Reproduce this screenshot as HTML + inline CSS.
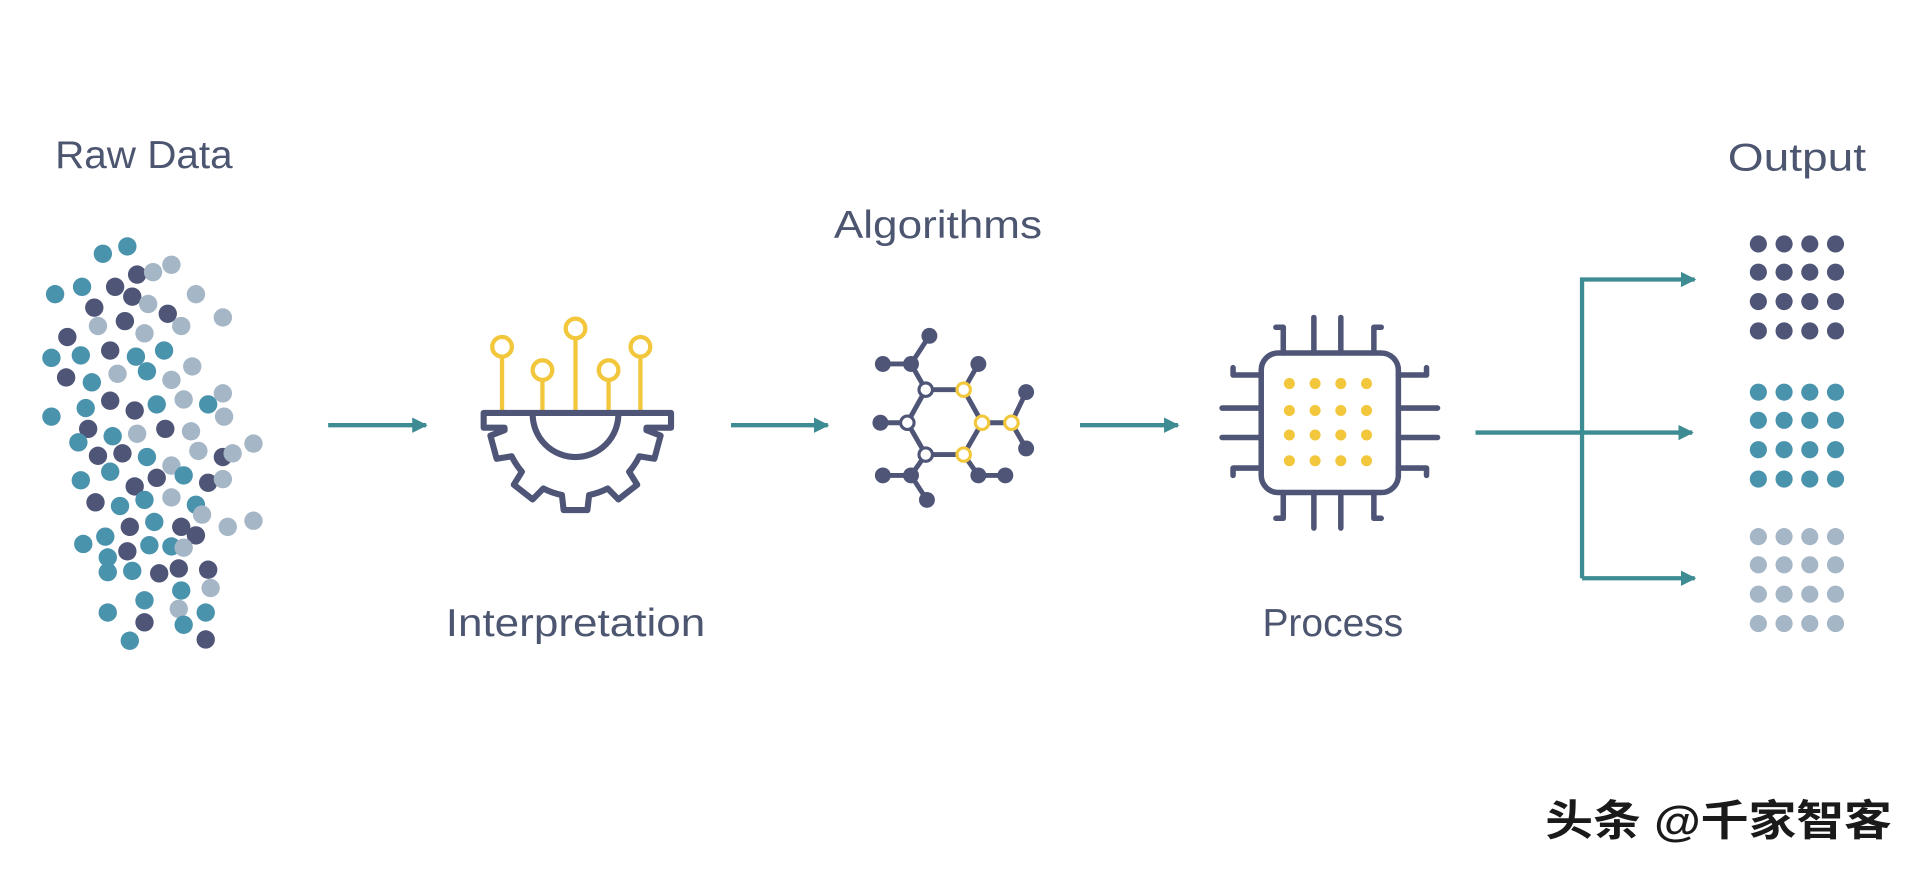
<!DOCTYPE html>
<html><head><meta charset="utf-8"><style>
html,body{margin:0;padding:0;background:#fff;width:1920px;height:870px;overflow:hidden}
svg{display:block}
text{font-family:"Liberation Sans","Noto Sans CJK SC",sans-serif;fill:#4d5670}
</style></head><body>
<svg width="1920" height="870" viewBox="0 0 1568 710" xmlns="http://www.w3.org/2000/svg">
<defs>
<marker id="ah" viewBox="0 0 10 10" refX="9" refY="5" markerWidth="3.6" markerHeight="3.6" orient="auto"><path d="M0,0 L10,5 L0,10 Z" fill="#3d8b93"/></marker>
</defs>
<text x="45" y="137" font-size="32" textLength="145" lengthAdjust="spacingAndGlyphs">Raw Data</text>
<text x="681" y="194" font-size="32" textLength="170" lengthAdjust="spacingAndGlyphs">Algorithms</text>
<text x="1411" y="139" font-size="32" textLength="113" lengthAdjust="spacingAndGlyphs">Output</text>
<text x="364" y="519" font-size="32" textLength="212" lengthAdjust="spacingAndGlyphs">Interpretation</text>
<text x="1031" y="519" font-size="32" textLength="115" lengthAdjust="spacingAndGlyphs">Process</text>
<text x="1262" y="682" font-size="35" font-weight="bold" style="fill:#1a1a1a" textLength="283" lengthAdjust="spacingAndGlyphs">头条 @千家智客</text>

<!-- scatter -->
<g>
<circle cx="84" cy="207" r="7.5" fill="#4a93ad"/><circle cx="104" cy="201" r="7.5" fill="#4a93ad"/>
<circle cx="45" cy="240" r="7.5" fill="#4a93ad"/><circle cx="67" cy="234" r="7.5" fill="#4a93ad"/>
<circle cx="94" cy="234" r="7.5" fill="#4f5577"/><circle cx="112" cy="224" r="7.5" fill="#4f5577"/>
<circle cx="125" cy="222" r="7.5" fill="#a5b6c6"/><circle cx="140" cy="216" r="7.5" fill="#a5b6c6"/>
<circle cx="108" cy="242" r="7.5" fill="#4f5577"/><circle cx="121" cy="248" r="7.5" fill="#a5b6c6"/>
<circle cx="160" cy="240" r="7.5" fill="#a5b6c6"/><circle cx="77" cy="251" r="7.5" fill="#4f5577"/>
<circle cx="55" cy="275" r="7.5" fill="#4f5577"/><circle cx="80" cy="266" r="7.5" fill="#a5b6c6"/>
<circle cx="102" cy="262" r="7.5" fill="#4f5577"/><circle cx="118" cy="272" r="7.5" fill="#a5b6c6"/>
<circle cx="137" cy="256" r="7.5" fill="#4f5577"/><circle cx="148" cy="266" r="7.5" fill="#a5b6c6"/>
<circle cx="182" cy="259" r="7.5" fill="#a5b6c6"/><circle cx="42" cy="292" r="7.5" fill="#4a93ad"/>
<circle cx="66" cy="290" r="7.5" fill="#4a93ad"/><circle cx="90" cy="286" r="7.5" fill="#4f5577"/>
<circle cx="111" cy="291" r="7.5" fill="#4a93ad"/><circle cx="134" cy="286" r="7.5" fill="#4a93ad"/>
<circle cx="157" cy="299" r="7.5" fill="#a5b6c6"/><circle cx="54" cy="308" r="7.5" fill="#4f5577"/>
<circle cx="75" cy="312" r="7.5" fill="#4a93ad"/><circle cx="96" cy="305" r="7.5" fill="#a5b6c6"/>
<circle cx="120" cy="303" r="7.5" fill="#4a93ad"/><circle cx="140" cy="310" r="7.5" fill="#a5b6c6"/>
<circle cx="182" cy="321" r="7.5" fill="#a5b6c6"/><circle cx="42" cy="340" r="7.5" fill="#4a93ad"/>
<circle cx="70" cy="333" r="7.5" fill="#4a93ad"/><circle cx="90" cy="327" r="7.5" fill="#4f5577"/>
<circle cx="110" cy="335" r="7.5" fill="#4f5577"/><circle cx="128" cy="330" r="7.5" fill="#4a93ad"/>
<circle cx="150" cy="326" r="7.5" fill="#a5b6c6"/><circle cx="170" cy="330" r="7.5" fill="#4a93ad"/>
<circle cx="183" cy="340" r="7.5" fill="#a5b6c6"/><circle cx="72" cy="350" r="7.5" fill="#4f5577"/>
<circle cx="92" cy="356" r="7.5" fill="#4a93ad"/><circle cx="112" cy="354" r="7.5" fill="#a5b6c6"/>
<circle cx="135" cy="350" r="7.5" fill="#4f5577"/><circle cx="156" cy="352" r="7.5" fill="#a5b6c6"/>
<circle cx="207" cy="362" r="7.5" fill="#a5b6c6"/><circle cx="64" cy="361" r="7.5" fill="#4a93ad"/>
<circle cx="80" cy="372" r="7.5" fill="#4f5577"/><circle cx="100" cy="370" r="7.5" fill="#4f5577"/>
<circle cx="120" cy="373" r="7.5" fill="#4a93ad"/><circle cx="140" cy="380" r="7.5" fill="#a5b6c6"/>
<circle cx="162" cy="368" r="7.5" fill="#a5b6c6"/><circle cx="182" cy="373" r="7.5" fill="#4f5577"/>
<circle cx="190" cy="370" r="7.5" fill="#a5b6c6"/><circle cx="66" cy="392" r="7.5" fill="#4a93ad"/>
<circle cx="90" cy="385" r="7.5" fill="#4a93ad"/><circle cx="110" cy="397" r="7.5" fill="#4f5577"/>
<circle cx="128" cy="390" r="7.5" fill="#4f5577"/><circle cx="150" cy="388" r="7.5" fill="#4a93ad"/>
<circle cx="170" cy="394" r="7.5" fill="#4f5577"/><circle cx="182" cy="391" r="7.5" fill="#a5b6c6"/>
<circle cx="78" cy="410" r="7.5" fill="#4f5577"/><circle cx="98" cy="413" r="7.5" fill="#4a93ad"/>
<circle cx="118" cy="408" r="7.5" fill="#4a93ad"/><circle cx="140" cy="406" r="7.5" fill="#a5b6c6"/>
<circle cx="160" cy="412" r="7.5" fill="#4a93ad"/><circle cx="207" cy="425" r="7.5" fill="#a5b6c6"/>
<circle cx="68" cy="444" r="7.5" fill="#4a93ad"/><circle cx="86" cy="438" r="7.5" fill="#4a93ad"/>
<circle cx="106" cy="430" r="7.5" fill="#4f5577"/><circle cx="126" cy="426" r="7.5" fill="#4a93ad"/>
<circle cx="148" cy="430" r="7.5" fill="#4f5577"/><circle cx="165" cy="420" r="7.5" fill="#a5b6c6"/>
<circle cx="186" cy="430" r="7.5" fill="#a5b6c6"/><circle cx="160" cy="437" r="7.5" fill="#4f5577"/>
<circle cx="88" cy="455" r="7.5" fill="#4a93ad"/><circle cx="104" cy="450" r="7.5" fill="#4f5577"/>
<circle cx="122" cy="445" r="7.5" fill="#4a93ad"/><circle cx="140" cy="446" r="7.5" fill="#4a93ad"/>
<circle cx="146" cy="464" r="7.5" fill="#4f5577"/><circle cx="170" cy="465" r="7.5" fill="#4f5577"/>
<circle cx="88" cy="467" r="7.5" fill="#4a93ad"/><circle cx="108" cy="466" r="7.5" fill="#4a93ad"/>
<circle cx="150" cy="447" r="7.5" fill="#a5b6c6"/><circle cx="172" cy="480" r="7.5" fill="#a5b6c6"/>
<circle cx="148" cy="482" r="7.5" fill="#4a93ad"/><circle cx="118" cy="490" r="7.5" fill="#4a93ad"/>
<circle cx="146" cy="497" r="7.5" fill="#a5b6c6"/><circle cx="168" cy="500" r="7.5" fill="#4a93ad"/>
<circle cx="88" cy="500" r="7.5" fill="#4a93ad"/><circle cx="118" cy="508" r="7.5" fill="#4f5577"/>
<circle cx="150" cy="510" r="7.5" fill="#4a93ad"/><circle cx="106" cy="523" r="7.5" fill="#4a93ad"/>
<circle cx="168" cy="522" r="7.5" fill="#4f5577"/><circle cx="130" cy="468" r="7.5" fill="#4f5577"/>
</g>

<!-- arrows -->
<g stroke="#3d8b93" stroke-width="3.5" fill="none" marker-end="url(#ah)">
<line x1="268" y1="347" x2="348" y2="347"/>
<line x1="597" y1="347" x2="676" y2="347"/>
<line x1="882" y1="347" x2="962" y2="347"/>
<line x1="1292" y1="353" x2="1382" y2="353"/>
<path d="M1292,472 V228 H1384" />
<line x1="1292" y1="472" x2="1384" y2="472"/>
</g>
<line x1="1205" y1="353" x2="1292" y2="353" stroke="#3d8b93" stroke-width="3.5"/>

<!-- gear -->
<g stroke="#f2c73c" stroke-width="3.5" fill="none">
<line x1="410" y1="292" x2="410" y2="336"/><circle cx="410" cy="283" r="8" fill="#fff"/>
<line x1="443" y1="311" x2="443" y2="336"/><circle cx="443" cy="302" r="8" fill="#fff"/>
<line x1="470" y1="277" x2="470" y2="336"/><circle cx="470" cy="268" r="8" fill="#fff"/>
<line x1="497" y1="311" x2="497" y2="336"/><circle cx="497" cy="302" r="8" fill="#fff"/>
<line x1="523" y1="292" x2="523" y2="336"/><circle cx="523" cy="283" r="8" fill="#fff"/>
</g>
<g stroke="#4f5577" stroke-width="5" fill="none" stroke-linejoin="round">
<path d="M395,337 H548 V349 H528 L527.9,351 L539.5,355.5 L534.4,374.4 L522.1,372.4 A58 58 0 0 1 513.8,385 L520.4,395.6 L505,407.6 L496.3,398.7 A58 58 0 0 1 481.1,404 L479.7,416.3 L460.3,416.3 L458.9,404 A58 58 0 0 1 443.7,398.7 L435,407.6 L419.6,395.6 L426.2,385 A58 58 0 0 1 417.9,372.4 L405.6,374.4 L400.5,355.5 L412.1,351 L412,349 H395 Z"/>
<path d="M435,338 A35 35 0 0 0 505,338"/>
</g>

<!-- molecule -->
<g stroke="#4f5577" stroke-width="4" fill="none">
<line x1="721" y1="297" x2="744" y2="297"/><line x1="744" y1="297" x2="759" y2="274"/><line x1="744" y1="297" x2="756" y2="318"/>
<line x1="799" y1="297" x2="787" y2="318"/><line x1="719" y1="345" x2="741" y2="345"/><line x1="802" y1="345" x2="826" y2="345"/>
<line x1="826" y1="345" x2="838" y2="320"/><line x1="826" y1="345" x2="838" y2="366"/><line x1="744" y1="388" x2="756" y2="371"/>
<line x1="721" y1="388" x2="744" y2="388"/><line x1="744" y1="388" x2="757" y2="408"/><line x1="787" y1="371" x2="799" y2="388"/>
<line x1="799" y1="388" x2="821" y2="388"/>
<polygon points="756,318 787,318 802,345 787,371 756,371 741,345"/>
</g>
<g fill="#4f5577">
<circle cx="721" cy="297" r="6.5"/><circle cx="744" cy="297" r="6.5"/><circle cx="759" cy="274" r="6.5"/><circle cx="799" cy="297" r="6.5"/>
<circle cx="719" cy="345" r="6.5"/><circle cx="838" cy="320" r="6.5"/><circle cx="838" cy="366" r="6.5"/><circle cx="721" cy="388" r="6.5"/>
<circle cx="744" cy="388" r="6.5"/><circle cx="757" cy="408" r="6.5"/><circle cx="799" cy="388" r="6.5"/><circle cx="821" cy="388" r="6.5"/>
</g>
<g fill="#fff" stroke-width="2.5">
<circle cx="756" cy="318" r="5.5" stroke="#4f5577"/><circle cx="741" cy="345" r="5.5" stroke="#4f5577"/><circle cx="756" cy="371" r="5.5" stroke="#4f5577"/>
<circle cx="787" cy="318" r="5.5" stroke="#f2c73c"/><circle cx="802" cy="345" r="5.5" stroke="#f2c73c"/><circle cx="787" cy="371" r="5.5" stroke="#f2c73c"/><circle cx="826" cy="345" r="5.5" stroke="#f2c73c"/>
</g>

<!-- chip -->
<g stroke="#4f5577" stroke-width="4.5" fill="none" stroke-linecap="round" stroke-linejoin="round">
<rect x="1030" y="288" width="112" height="114" rx="14"/>
<path d="M1048,288 V267 H1042 M1073,288 V259 M1095,288 V259 M1122,288 V267 H1128"/>
<path d="M1048,402 V423 H1042 M1073,402 V431 M1095,402 V431 M1122,402 V423 H1128"/>
<path d="M1030,306 H1007 V300 M1030,333 H998 M1030,357 H998 M1030,382 H1007 V388"/>
<path d="M1142,306 H1165 V300 M1142,333 H1174 M1142,357 H1174 M1142,382 H1165 V388"/>
</g>
<g fill="#f2c73c">
<circle cx="1053" cy="313" r="4.5"/><circle cx="1074" cy="313" r="4.5"/><circle cx="1095" cy="313" r="4.5"/><circle cx="1116" cy="313" r="4.5"/>
<circle cx="1053" cy="335" r="4.5"/><circle cx="1074" cy="335" r="4.5"/><circle cx="1095" cy="335" r="4.5"/><circle cx="1116" cy="335" r="4.5"/>
<circle cx="1053" cy="355" r="4.5"/><circle cx="1074" cy="355" r="4.5"/><circle cx="1095" cy="355" r="4.5"/><circle cx="1116" cy="355" r="4.5"/>
<circle cx="1053" cy="376" r="4.5"/><circle cx="1074" cy="376" r="4.5"/><circle cx="1095" cy="376" r="4.5"/><circle cx="1116" cy="376" r="4.5"/>
</g>

<!-- output grids -->
<g fill="#4f5577">
<circle cx="1436" cy="199" r="7"/><circle cx="1457" cy="199" r="7"/><circle cx="1478" cy="199" r="7"/><circle cx="1499" cy="199" r="7"/>
<circle cx="1436" cy="222" r="7"/><circle cx="1457" cy="222" r="7"/><circle cx="1478" cy="222" r="7"/><circle cx="1499" cy="222" r="7"/>
<circle cx="1436" cy="246" r="7"/><circle cx="1457" cy="246" r="7"/><circle cx="1478" cy="246" r="7"/><circle cx="1499" cy="246" r="7"/>
<circle cx="1436" cy="270" r="7"/><circle cx="1457" cy="270" r="7"/><circle cx="1478" cy="270" r="7"/><circle cx="1499" cy="270" r="7"/>
</g>
<g fill="#4a93ad">
<circle cx="1436" cy="320" r="7"/><circle cx="1457" cy="320" r="7"/><circle cx="1478" cy="320" r="7"/><circle cx="1499" cy="320" r="7"/>
<circle cx="1436" cy="343" r="7"/><circle cx="1457" cy="343" r="7"/><circle cx="1478" cy="343" r="7"/><circle cx="1499" cy="343" r="7"/>
<circle cx="1436" cy="367" r="7"/><circle cx="1457" cy="367" r="7"/><circle cx="1478" cy="367" r="7"/><circle cx="1499" cy="367" r="7"/>
<circle cx="1436" cy="391" r="7"/><circle cx="1457" cy="391" r="7"/><circle cx="1478" cy="391" r="7"/><circle cx="1499" cy="391" r="7"/>
</g>
<g fill="#a5b6c6">
<circle cx="1436" cy="438" r="7"/><circle cx="1457" cy="438" r="7"/><circle cx="1478" cy="438" r="7"/><circle cx="1499" cy="438" r="7"/>
<circle cx="1436" cy="461" r="7"/><circle cx="1457" cy="461" r="7"/><circle cx="1478" cy="461" r="7"/><circle cx="1499" cy="461" r="7"/>
<circle cx="1436" cy="485" r="7"/><circle cx="1457" cy="485" r="7"/><circle cx="1478" cy="485" r="7"/><circle cx="1499" cy="485" r="7"/>
<circle cx="1436" cy="509" r="7"/><circle cx="1457" cy="509" r="7"/><circle cx="1478" cy="509" r="7"/><circle cx="1499" cy="509" r="7"/>
</g>
</svg>
</body></html>
